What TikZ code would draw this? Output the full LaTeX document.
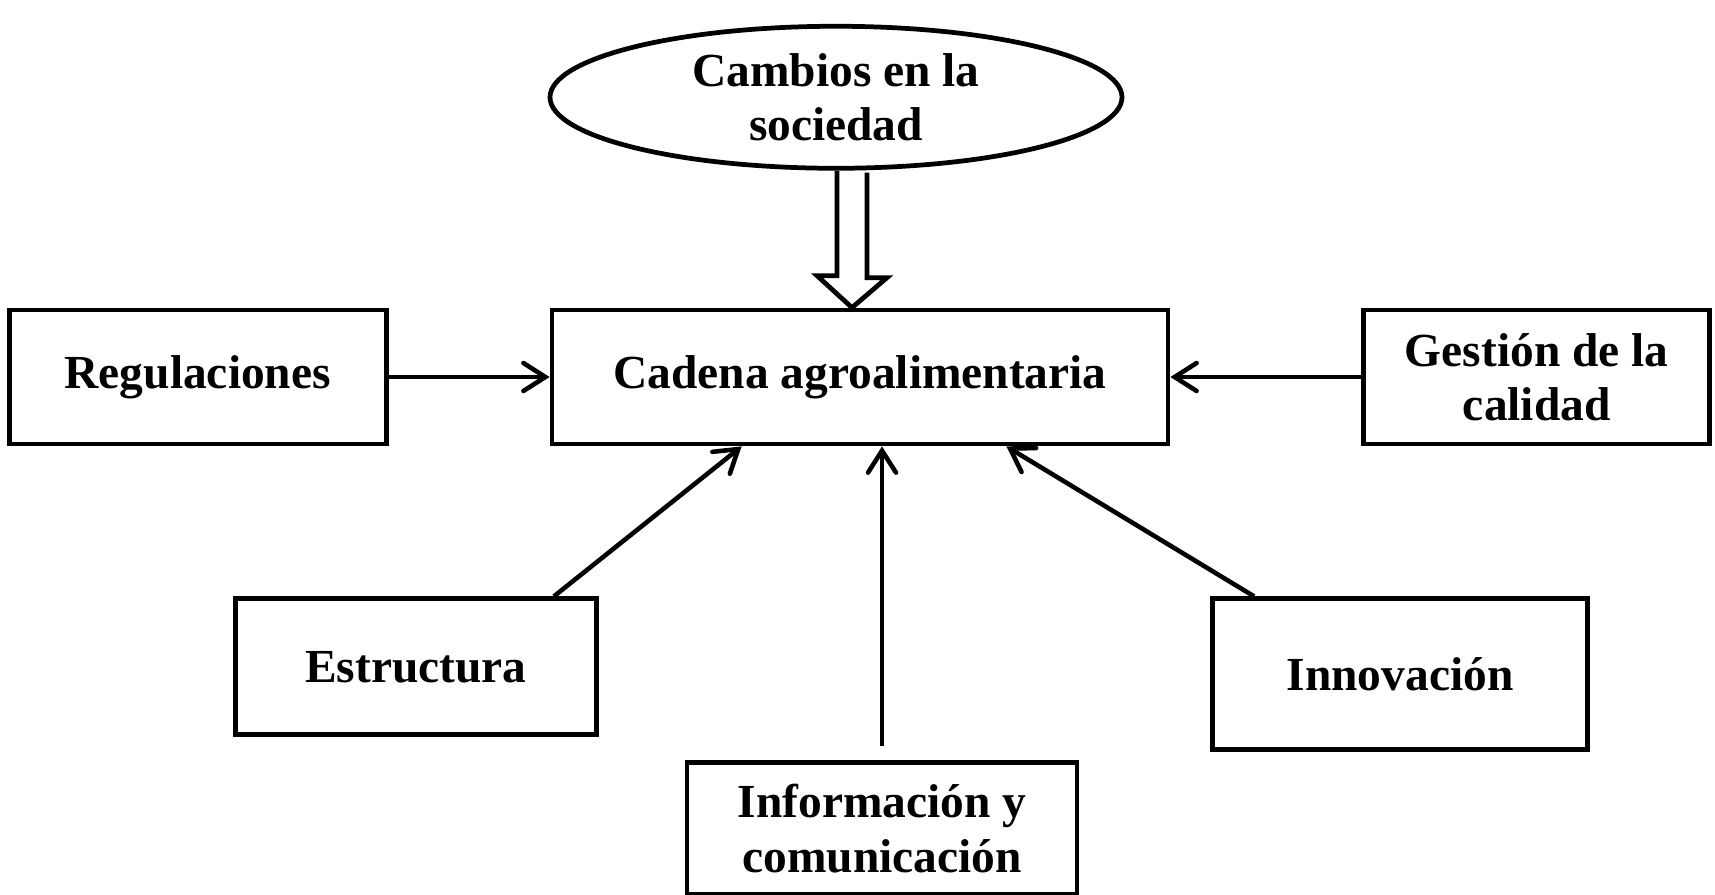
\documentclass[tikz,border=0pt]{standalone}
\usepackage{fontspec}
\setmainfont{Liberation Serif}
\usepackage{tikz}
\usetikzlibrary{shapes.geometric, positioning, arrows.meta}

\begin{document}
\begin{tikzpicture}[
        every node/.style={draw=black,line width=1.35pt,align=center,font=\bfseries\fontsize{13.5}{15.5}\selectfont},
        box/.style={rectangle,minimum height=1.34cm},
        cloud/.style={ellipse,minimum width=5.72cm,minimum height=1.42cm,inner sep=0pt},
        to/.style={-{Straight Barb[length=2.2mm,width=2.8mm,line cap=round]},line width=1.3pt},
        hollow/.style={line width=1.35pt,line join=miter,fill=white},
        ]
      \useasboundingbox (0,0) rectangle (17.15,-8.94);
      \node [box, minimum width=6.16cm] (cadena) at (8.60,-3.77) {Cadena agroalimentaria};
      \node [cloud, above=1.37cm of cadena, xshift=-0.24cm] (sociedad) {Cambios en la\\sociedad};
      \node [box, minimum width=3.77cm, left=1.61cm of cadena] (regulaciones) {Regulaciones};
      \node [box, minimum width=3.46cm, right=1.91cm of cadena] (calidad) {Gestión de la\\calidad};
      \node [box, minimum width=3.61cm, minimum height=1.36cm, below=1.50cm of cadena, xshift=-4.44cm] (estructura) {Estructura};
      \node [box, minimum width=3.75cm, minimum height=1.51cm, below=1.50cm of cadena, xshift=5.40cm] (innovacion) {Innovación};
      \node [box, minimum width=3.90cm, minimum height=1.32cm, below=3.14cm of cadena, xshift=0.22cm] (informacion) {Información y\\comunicación};

      \coordinate (tip) at ([xshift=-0.08cm]cadena.north);
      \draw[hollow] (tip |- sociedad.south) ++(-0.15,0) -- ++(0,-1.05) -- ++(-0.20,0)
            -- (tip) -- ++(0.35,0.30) -- ++(-0.20,0) -- ++(0,1.05);

      \draw[to] (regulaciones) -- (cadena);
      \draw[to] (calidad) -- (cadena);
      \draw[to] ([xshift=-0.45cm]estructura.north east) -- ([xshift=1.92cm]cadena.south west);
      \draw[to] ([yshift=0.14cm]informacion.north) -- (informacion.north |- cadena.south);
      \draw[to] ([xshift=0.44cm]innovacion.north west) -- ([xshift=-1.64cm]cadena.south east);
    \end{tikzpicture}
\end{document}
